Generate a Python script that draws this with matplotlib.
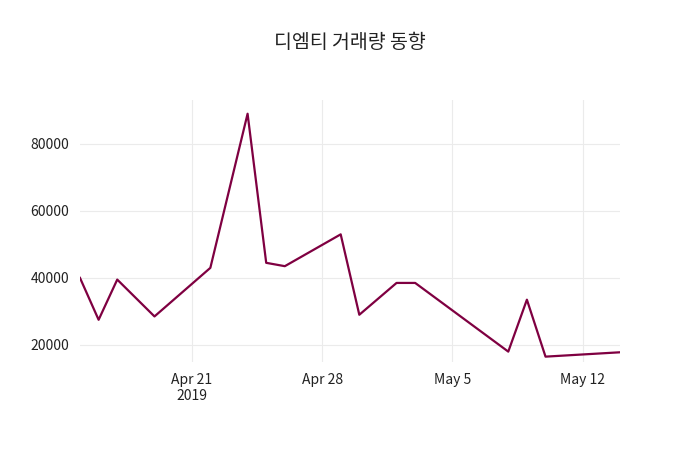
import matplotlib
matplotlib.use("Agg")
import matplotlib.pyplot as plt
import pandas as pd

plt.rcParams["font.family"] = ["Noto Sans CJK KR", "Noto Sans CJK JP", "Noto Sans CJK SC", "DejaVu Sans"]

dates = ["2019-04-15","2019-04-16","2019-04-17","2019-04-19","2019-04-22","2019-04-24",
         "2019-04-25","2019-04-26","2019-04-29","2019-04-30","2019-05-02","2019-05-03",
         "2019-05-08","2019-05-09","2019-05-10","2019-05-14"]
volume = [40000,27500,39500,28500,43000,89000,44500,43500,53000,29000,38500,38500,
          18000,33500,16500,17800]
title = "디엠티 거래량 동향"

x = pd.to_datetime(dates)
fig = plt.figure(figsize=(7, 4.5), dpi=100)
ax = fig.add_axes([80/700, 88/450, 540/700, 262/450])
ax.plot(x, volume, color="#7f0041", lw=1.6)
ax.set_xlim(x[0], x[-1])
ax.set_ylim(14900, 93100)
ax.set_yticks([20000, 40000, 60000, 80000])
ticks = pd.to_datetime(["2019-04-21","2019-04-28","2019-05-05","2019-05-12"])
ax.set_xticks(ticks)
ax.set_xticklabels(["Apr 21\n2019","Apr 28","May 5","May 12"])
for s in ax.spines.values():
    s.set_visible(False)
ax.grid(True, color="#ebebeb", lw=0.8)
ax.tick_params(length=0, labelsize=10, colors="#222222", pad=8)
fig.suptitle(title, y=1-42/450, va="center", fontsize=14, color="#222222")
fig.savefig("out.png", dpi=100)
